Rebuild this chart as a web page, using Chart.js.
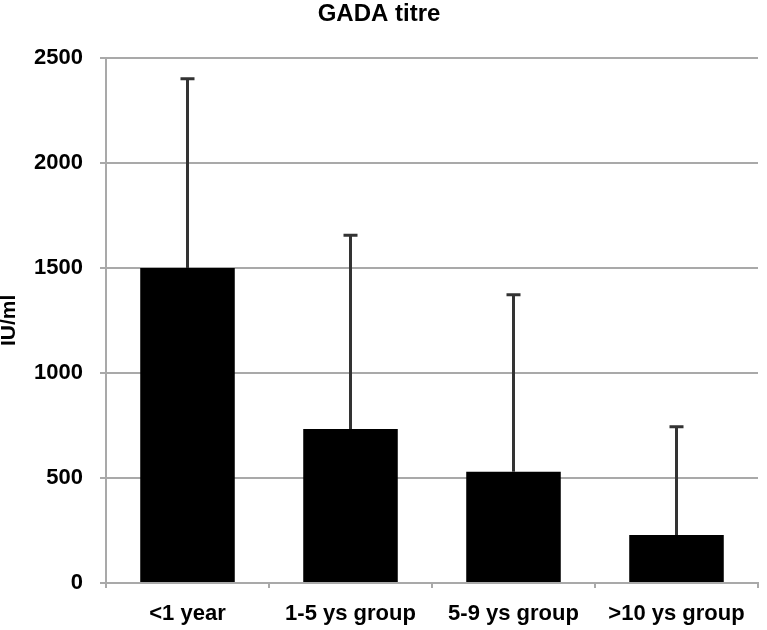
<!DOCTYPE html>
<html>
<head>
<meta charset="utf-8">
<script src="https://cdn.jsdelivr.net/npm/chart.js@4"></script>
<style>
  body { margin: 0; background: #fff; }
  #wrap { width: 767px; height: 630px; }
</style>
</head>
<body>
<div id="wrap"><canvas id="gadaChart"></canvas></div>
<script>
// GADA titre per age group - mean + SD (upper error bar only)
const groups = ["<1 year", "1-5 ys group", "5-9 ys group", ">10 ys group"];
const meanTitre = [1500, 733, 530, 229];
const sdTitre = [900, 922, 842, 515];
const yTicks = [0, 500, 1000, 1500, 2000, 2500];

const gridGray = "#a9a9a9";
const fontFamily = "Liberation Sans, Arial, sans-serif";

// draws the upper error bars from the bar top to mean + SD
const errorBars = {
  id: "errorBars",
  afterDatasetsDraw(chart) {
    const ctx = chart.ctx;
    const yScale = chart.scales.y;
    const meta = chart.getDatasetMeta(0);
    ctx.save();
    ctx.strokeStyle = "#333";
    ctx.lineWidth = 3;
    meta.data.forEach((bar, i) => {
      const yTop = yScale.getPixelForValue(meanTitre[i] + sdTitre[i]);
      ctx.beginPath();
      ctx.moveTo(bar.x, bar.y);
      ctx.lineTo(bar.x, yTop);
      ctx.moveTo(bar.x - 7, yTop);
      ctx.lineTo(bar.x + 7, yTop);
      ctx.stroke();
    });
    ctx.restore();
  },
};

new Chart(document.getElementById("gadaChart"), {
  type: "bar",
  data: {
    labels: groups,
    datasets: [
      {
        data: meanTitre,
        backgroundColor: "#000",
        barPercentage: 0.58,
        categoryPercentage: 1,
      },
    ],
  },
  options: {
    responsive: true,
    maintainAspectRatio: false,
    animation: false,
    layout: { padding: { top: 0, right: 9, bottom: 0, left: 0 } },
    plugins: {
      legend: { display: false },
      tooltip: { enabled: false },
      title: {
        display: true,
        text: "GADA titre",
        color: "#000",
        font: { family: fontFamily, size: 24, weight: "bold" },
        padding: { top: 0, bottom: 29 },
      },
    },
    scales: {
      x: {
        afterFit(scale) {
          scale.height = 47;
        },
        grid: {
          offset: true,
          drawOnChartArea: false,
          color: gridGray,
          lineWidth: 2,
          tickLength: 5,
        },
        border: { color: gridGray, width: 2 },
        ticks: {
          color: "#000",
          padding: 13,
          maxRotation: 0,
          font: { family: fontFamily, size: 22, weight: "bold" },
        },
      },
      y: {
        min: 0,
        max: 2500,
        afterFit(scale) {
          scale.width = 106;
        },
        afterBuildTicks(scale) {
          scale.ticks = yTicks.map((v) => ({ value: v }));
        },
        grid: { color: gridGray, lineWidth: 2, tickLength: 6 },
        border: { color: gridGray, width: 2 },
        ticks: {
          color: "#000",
          padding: 17,
          callback: (v) => String(v),
          font: { family: fontFamily, size: 22, weight: "bold" },
        },
        title: {
          display: true,
          text: "IU/ml",
          color: "#000",
          padding: { top: -3, bottom: 0 },
          font: { family: fontFamily, size: 21, weight: "bold" },
        },
      },
    },
  },
  plugins: [errorBars],
});
</script>
</body>
</html>
